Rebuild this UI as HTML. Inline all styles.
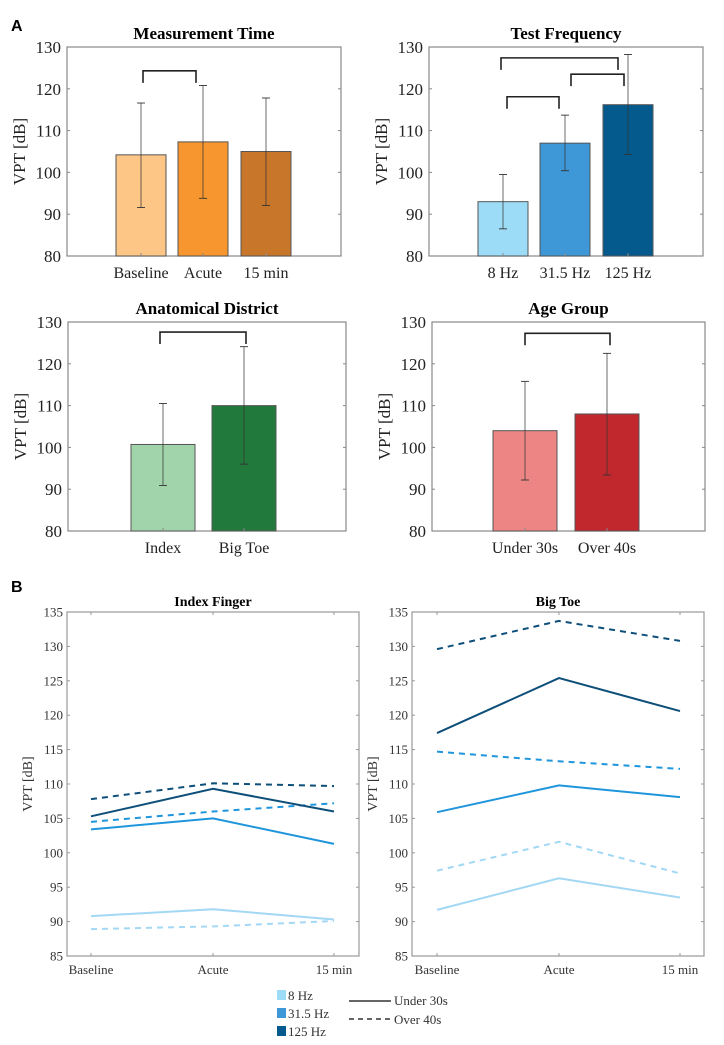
<!DOCTYPE html>
<html><head><meta charset="utf-8"><style>
body{margin:0;background:#fff;width:724px;height:1045px;overflow:hidden}
svg{display:block;font-family:"Liberation Serif",serif}
</style></head><body>
<svg id="fig" width="724" height="1045"></svg>
<script>
// Panel A data
const mtCats=["Baseline","Acute","15 min"], mtVals=[104.2,107.3,105.0], mtLo=[91.6,93.8,92.1], mtHi=[116.6,120.8,117.8];
const tfCats=["8 Hz","31.5 Hz","125 Hz"], tfVals=[93.0,107.0,116.2], tfLo=[86.5,100.4,104.3], tfHi=[99.5,113.7,128.2];
const adCats=["Index","Big Toe"], adVals=[100.7,110.0], adLo=[90.9,96.0], adHi=[110.5,124.1];
const agCats=["Under 30s","Over 40s"], agVals=[104.0,108.0], agLo=[92.2,93.4], agHi=[115.8,122.5];
const aTicks=[80,90,100,110,120,130];
// Panel B data
const bTimes=["Baseline","Acute","15 min"];
const bTicks=[85,90,95,100,105,110,115,120,125,130,135];
const ifU8=[90.8,91.8,90.3], ifO8=[88.9,89.3,90.1];
const ifU31=[103.4,105.0,101.3], ifO31=[104.5,106.0,107.2];
const ifU125=[105.3,109.3,106.0], ifO125=[107.8,110.1,109.7];
const btU8=[91.7,96.3,93.5], btO8=[97.4,101.6,97.0];
const btU31=[105.9,109.8,108.1], btO31=[114.7,113.3,112.2];
const btU125=[117.4,125.4,120.6], btO125=[129.6,133.7,130.8];

const NS="http://www.w3.org/2000/svg", svg=document.getElementById('fig');
function mk(tag,attrs,parent,text){const e=document.createElementNS(NS,tag);for(const k in attrs)e.setAttribute(k,attrs[k]);if(text!==undefined)e.textContent=text;(parent||svg).appendChild(e);return e;}

function barChart(name,title,x0,x1,y0,y1,cats,vals,lo,hi,centers,bw,colors,brackets){
  const g=mk('g',{});
  
  
  const ys=v=>y1-(v-80)/50*(y1-y0);
  mk('rect',{x:x0,y:y0,width:x1-x0,height:y1-y0,fill:'none',stroke:'#888','stroke-width':1.2},g);
  const t=mk('text',{x:(x0+x1)/2,y:y0-8,'text-anchor':'middle','font-size':17,'font-weight':'bold'},g,title);
  
  
  aTicks.forEach(v=>{const y=ys(v);
    mk('line',{x1:x0,x2:x0+3,y1:y,y2:y,stroke:'#888'},g);mk('line',{x1:x1-3,x2:x1,y1:y,y2:y,stroke:'#888'},g);
    mk('text',{x:x0-6,y:y+6,'text-anchor':'end','font-size':17,fill:'#222'},g,v);});
  const yl=mk('text',{transform:`translate(${x0-42},${(y0+y1)/2}) rotate(-90)`,'text-anchor':'middle','font-size':17,fill:'#222'},g,'VPT [dB]');
  
  
  cats.forEach((c,i)=>{const cx=centers[i];
    const b=mk('rect',{x:cx-bw/2,y:ys(vals[i]),width:bw,height:y1-ys(vals[i]),fill:colors[i],stroke:'#555','stroke-width':1},g);
    
    
    const ex=cx-(bw/2-8)+ (bw/2-8);
    mk('line',{x1:cx,x2:cx,y1:ys(lo[i]),y2:ys(hi[i]),stroke:'#333','stroke-width':0.9,opacity:0.8},g);
    mk('line',{x1:cx-4,x2:cx+4,y1:ys(lo[i]),y2:ys(lo[i]),stroke:'#333','stroke-width':0.9},g);
    mk('line',{x1:cx-4,x2:cx+4,y1:ys(hi[i]),y2:ys(hi[i]),stroke:'#333','stroke-width':0.9},g);
    mk('text',{x:cx,y:y1+22,'text-anchor':'middle','font-size':16,fill:'#222'},g,c);
    mk('line',{x1:cx,x2:cx,y1:y1,y2:y1-3,stroke:'#888'},g);
  });
  brackets.forEach(br=>{const y=ys(br[2]);
    const p=mk('path',{d:`M${br[0]},${y+12}V${y}H${br[1]}V${y+12}`,fill:'none',stroke:'#222','stroke-width':1.6},g);
    
    });
}
barChart('measurement-time-chart','Measurement Time',67,341,47,256,mtCats,mtVals,mtLo,mtHi,[141,203,266],50,['#fdc686','#f7962f','#c8772a'],[[143,196,124.3]]);
barChart('test-frequency-chart','Test Frequency',429,703,47,256,tfCats,tfVals,tfLo,tfHi,[503,565,628],50,['#9ddcf7','#3e97d6','#045a8d'],[[501,618,127.4],[571,624,123.5],[507,559,118.1]]);
barChart('anatomical-district-chart','Anatomical District',68,346,322,531,adCats,adVals,adLo,adHi,[163,244],64,['#a2d4ac','#217a3c'],[[160,246,127.6]]);
barChart('age-group-chart','Age Group',432,705,322,531,agCats,agVals,agLo,agHi,[525,607],64,['#ec8583','#c1282d'],[[525,610,127.3]]);

function lineChart(name,title,x0,x1,y0,y1,xs,series){
  const g=mk('g',{});
  
  
  const ys=v=>y1-(v-85)/50*(y1-y0);
  mk('rect',{x:x0,y:y0,width:x1-x0,height:y1-y0,fill:'none',stroke:'#999','stroke-width':1.2},g);
  const t=mk('text',{x:(x0+x1)/2,y:y0-6,'text-anchor':'middle','font-size':14,'font-weight':'bold'},g,title);
  
  
  bTicks.forEach(v=>{const y=ys(v);
    mk('line',{x1:x0,x2:x0+3,y1:y,y2:y,stroke:'#999'},g);mk('line',{x1:x1-3,x2:x1,y1:y,y2:y,stroke:'#999'},g);
    mk('text',{x:x0-4,y:y+4.5,'text-anchor':'end','font-size':13,fill:'#333'},g,v);});
  const yl=mk('text',{transform:`translate(${x0-35},${(y0+y1)/2}) rotate(-90)`,'text-anchor':'middle','font-size':14,fill:'#333'},g,'VPT [dB]');
  
  
  bTimes.forEach((c,i)=>{mk('line',{x1:xs[i],x2:xs[i],y1:y1,y2:y1-3,stroke:'#999'},g);mk('line',{x1:xs[i],x2:xs[i],y1:y0,y2:y0+3,stroke:'#999'},g);
    mk('text',{x:xs[i],y:y1+18,'text-anchor':'middle','font-size':13,fill:'#333'},g,c);});
  series.forEach(s=>{const p=mk('polyline',{points:s[0].map((v,i)=>xs[i]+','+ys(v)).join(' '),fill:'none',stroke:s[1],'stroke-width':2,'stroke-dasharray':s[2]?'6,5':'none'},g);
    
    });
}
const c8='#a3d8f4',c31='#1f96dc',c125='#0e4f7a';
lineChart('index-finger-chart','Index Finger',67,359,612,956,[91,213,334],[[ifU8,c8,0,'line-8hz-under30'],[ifO8,c8,1,'line-8hz-over40'],[ifU31,c31,0,'line-31hz-under30'],[ifO31,c31,1,'line-31hz-over40'],[ifU125,c125,0,'line-125hz-under30'],[ifO125,c125,1,'line-125hz-over40']]);
lineChart('big-toe-chart','Big Toe',412,704,612,956,[437,559,680],[[btU8,c8,0,'line-8hz-under30'],[btO8,c8,1,'line-8hz-over40'],[btU31,c31,0,'line-31hz-under30'],[btO31,c31,1,'line-31hz-over40'],[btU125,c125,0,'line-125hz-under30'],[btO125,c125,1,'line-125hz-over40']]);

// legend
const lg=mk('g',{});


[['8 Hz','#9ddcf7',995],['31.5 Hz','#3e97d6',1013],['125 Hz','#045a8d',1031]].forEach(e=>{
  mk('rect',{x:277,y:e[2]-5,width:9,height:10,fill:e[1]},lg);
  mk('text',{x:288,y:e[2]+5,'font-size':13,fill:'#333'},lg,e[0]);});
mk('line',{x1:349,x2:391,y1:1001,y2:1001,stroke:'#333','stroke-width':1.5},lg);
mk('text',{x:394,y:1005,'font-size':13,fill:'#333'},lg,'Under 30s');
mk('line',{x1:349,x2:391,y1:1019,y2:1019,stroke:'#333','stroke-width':1.5,'stroke-dasharray':'5,4'},lg);
mk('text',{x:394,y:1024,'font-size':13,fill:'#333'},lg,'Over 40s');
// panel letters
const la=mk('text',{x:11,y:31,'font-size':16,'font-weight':'bold','font-family':'Liberation Sans, sans-serif'},svg,'A');


const lb=mk('text',{x:11,y:592,'font-size':16,'font-weight':'bold','font-family':'Liberation Sans, sans-serif'},svg,'B');


</script>
</body></html>
